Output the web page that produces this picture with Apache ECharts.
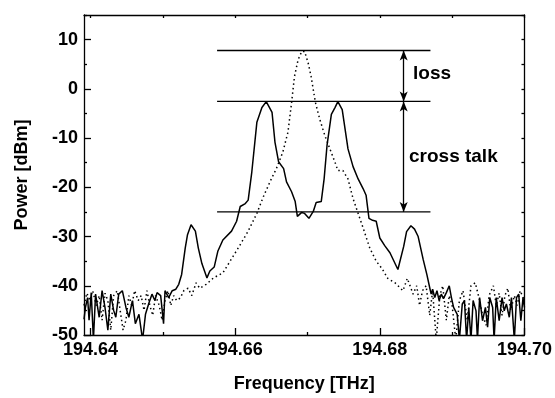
<!DOCTYPE html>
<html>
<head>
<meta charset="utf-8">
<script src="https://cdn.jsdelivr.net/npm/echarts@6/dist/echarts.min.js"></script>
<style>html,body{margin:0;padding:0;background:#fff}#c{width:555px;height:398px}</style>
</head>
<body>
<div id="c"></div>
<script>
// ---- data ----
const solidFreq = [194.6391,194.6393,194.6396,194.6398,194.6401,194.6404,194.6407,194.6412,194.6416,194.6420,194.6424,194.6428,194.6432,194.6435,194.6439,194.6444,194.6449,194.6453,194.6458,194.6462,194.6467,194.6472,194.6476,194.6481,194.6485,194.6489,194.6492,194.6497,194.6501,194.6503,194.6508,194.6513,194.6518,194.6522,194.6526,194.6531,194.6534,194.6539,194.6545,194.6549,194.6554,194.6561,194.6565,194.6571,194.6576,194.6583,194.6595,194.6602,194.6607,194.6614,194.6618,194.6623,194.6630,194.6637,194.6643,194.6651,194.6655,194.6660,194.6667,194.6671,194.6678,194.6683,194.6686,194.6692,194.6696,194.6702,194.6708,194.6712,194.6719,194.6723,194.6727,194.6733,194.6738,194.6742,194.6748,194.6756,194.6763,194.6770,194.6777,194.6781,194.6785,194.6790,194.6795,194.6800,194.6807,194.6814,194.6825,194.6833,194.6837,194.6843,194.6848,194.6853,194.6860,194.6865,194.6869,194.6871,194.6873,194.6876,194.6879,194.6882,194.6885,194.6888,194.6892,194.6896,194.6899,194.6902,194.6907,194.6910,194.6914,194.6917,194.6920,194.6923,194.6926,194.6929,194.6933,194.6935,194.6938,194.6942,194.6946,194.6949,194.6952,194.6956,194.6958,194.6961,194.6965,194.6969,194.6972,194.6975,194.6979,194.6982,194.6986,194.6989,194.6992,194.6995,194.6998,194.7000];
const solidPower = [-46.8,-44.4,-42.4,-47,-41.4,-51,-41.7,-46.4,-41,-44.4,-49,-41.7,-45,-46.4,-41.7,-41,-44.4,-46.4,-43,-47.7,-45.8,-51,-45.8,-43.4,-41.7,-43,-41.4,-42,-47.7,-41,-42.4,-41,-40.7,-39.7,-37.7,-32.3,-29.7,-27.6,-28.9,-32.3,-35.5,-38.4,-37,-36.2,-33,-30.7,-28.9,-26.9,-23.9,-23.3,-22.6,-16.9,-6.8,-3.8,-2.6,-4.8,-10.8,-14.8,-16.2,-18.9,-20.9,-22.9,-25.9,-25.1,-25.3,-26.3,-24.9,-23.1,-22.9,-18.3,-11.5,-5.2,-3.8,-2.6,-4.2,-12.2,-15.8,-18.3,-20.3,-21.6,-26.3,-26.7,-26.9,-30.3,-31.9,-33.3,-36.7,-32,-29,-27.8,-28.5,-30,-34.7,-37.7,-40.4,-41.7,-40.7,-42.4,-41,-43,-41.7,-42.6,-41.4,-40,-42.4,-44.4,-45.8,-51,-43.7,-43,-51,-44.4,-51,-43,-45.1,-51,-42.4,-47.1,-44.4,-48.4,-42.4,-44.4,-51,-42.4,-47.1,-42.4,-45.1,-43.7,-46.4,-42.4,-51,-42.4,-41.7,-47.1,-42.4,-44.4];

const dottedFreq = [194.6391,194.6395,194.6399,194.6403,194.6408,194.6412,194.6416,194.6420,194.6424,194.6428,194.6432,194.6437,194.6441,194.6445,194.6449,194.6453,194.6457,194.6461,194.6466,194.6470,194.6474,194.6478,194.6482,194.6486,194.6490,194.6495,194.6499,194.6503,194.6507,194.6511,194.6515,194.6519,194.6524,194.6529,194.6535,194.6540,194.6546,194.6551,194.6560,194.6570,194.6583,194.6593,194.6606,194.6618,194.6630,194.6639,194.6650,194.6657,194.6666,194.6673,194.6678,194.6682,194.6687,194.6692,194.6696,194.6701,194.6705,194.6711,194.6717,194.6724,194.6731,194.6738,194.6742,194.6749,194.6756,194.6763,194.6770,194.6777,194.6786,194.6795,194.6803,194.6811,194.6821,194.6832,194.6838,194.6846,194.6851,194.6855,194.6859,194.6864,194.6869,194.6873,194.6878,194.6883,194.6887,194.6892,194.6896,194.6900,194.6905,194.6910,194.6915,194.6921,194.6926,194.6932,194.6938,194.6942,194.6947,194.6951,194.6957,194.6961,194.6965,194.6969,194.6973,194.6977,194.6981,194.6986,194.6990,194.6994,194.7000];
const dottedPower = [-44,-41.5,-43,-41,-44,-42,-47,-41.5,-43,-49,-42,-41,-45,-49,-47,-42,-44,-41,-43,-42,-45,-41,-44,-46,-42,-44,-47,-43,-41,-44,-42,-43,-42.5,-41,-40.5,-42,-39.4,-40.5,-39.7,-38.4,-37.4,-35,-31.9,-28.9,-25.3,-21.9,-18.3,-16.2,-12.8,-8.8,-2.8,2.5,5.9,7.6,7.6,5.2,2.5,-2.8,-6.2,-9.5,-12.2,-14.9,-16.6,-16.6,-18.3,-22.3,-25.3,-28.3,-32.3,-35,-36.5,-38.5,-39.4,-41,-38.5,-41.7,-40,-44,-41,-40,-46,-41,-51,-42,-40,-47,-42,-44,-51,-43,-41,-47,-40,-39.4,-43,-46,-48,-42,-40,-44,-41.5,-46,-42,-40.5,-45,-42,-44,-41,-43];

const refLevels = [7.8, -2.55, -25.0];      // horizontal reference lines (dBm)
const refFreqRange = [194.6575, 194.687];    // extent of the reference lines
const arrowFreq = 194.6833;                  // x of the vertical arrows
const xLabelValues = [194.64, 194.66, 194.68, 194.70];
const xMinorTicks = [194.65, 194.67, 194.69];
const xAllTicks = [194.64, 194.65, 194.66, 194.67, 194.68, 194.69, 194.70];
const yLabelValues = [-50, -40, -30, -20, -10, 0, 10];
const yMinorTicks = [-45, -35, -25, -15, -5, 5, 15];
const yAllTicks = [-50, -45, -40, -35, -30, -25, -20, -15, -10, -5, 0, 5, 10, 15];

// ---- chart ----
const FONT = 'Liberation Sans, Arial, sans-serif';
const BLACK = '#000';
const XMIN = 194.6391, XMAX = 194.70, YMIN = -50, YMAX = 15;

function zip(a, b) { return a.map((v, i) => [v, b[i]]); }

const chart = echarts.init(document.getElementById('c'), null, {renderer: 'canvas'});

const axisLineStyle = {color: BLACK, width: 1.3};
const baseX = {type: 'value', min: XMIN, max: XMAX, splitLine: {show: false}, gridIndex: 0};
const baseY = {type: 'value', min: YMIN, max: YMAX, splitLine: {show: false}, gridIndex: 0};

const refSeries = refLevels.map(lv => ({
  type: 'line', xAxisIndex: 0, yAxisIndex: 0, symbol: 'none', silent: true,
  data: [[refFreqRange[0], lv], [refFreqRange[1], lv]],
  lineStyle: {color: BLACK, width: 1.4}, z: 3
}));

chart.setOption({
  animation: false,
  backgroundColor: '#fff',
  grid: {left: 84, right: 30, top: 15, bottom: 60, containLabel: false},
  xAxis: [
    Object.assign({}, baseX, {
      position: 'bottom',
      axisLine: {show: true, onZero: false, lineStyle: axisLineStyle},
      axisTick: {show: true, inside: true, length: 7, customValues: xLabelValues, lineStyle: axisLineStyle},
      axisLabel: {show: true, customValues: xLabelValues, formatter: v => v.toFixed(2),
        fontSize: 18, fontWeight: 'bold', fontFamily: FONT, color: BLACK, margin: 6},
      name: 'Frequency [THz]', nameLocation: 'middle', nameGap: 40,
      nameTextStyle: {fontSize: 18, fontWeight: 'bold', fontFamily: FONT, color: BLACK}
    }),
    Object.assign({}, baseX, {
      position: 'bottom',
      axisLine: {show: false, onZero: false},
      axisTick: {show: true, inside: true, length: 3, customValues: xMinorTicks, lineStyle: axisLineStyle},
      axisLabel: {show: false}
    }),
    Object.assign({}, baseX, {
      position: 'top',
      axisLine: {show: true, onZero: false, lineStyle: axisLineStyle},
      axisTick: {show: true, inside: true, length: 3, customValues: xAllTicks, lineStyle: axisLineStyle},
      axisLabel: {show: false}
    })
  ],
  yAxis: [
    Object.assign({}, baseY, {
      position: 'left',
      axisLine: {show: true, onZero: false, lineStyle: axisLineStyle},
      axisTick: {show: true, inside: true, length: 7, customValues: yLabelValues, lineStyle: axisLineStyle},
      axisLabel: {show: true, customValues: yLabelValues,
        fontSize: 18, fontWeight: 'bold', fontFamily: FONT, color: BLACK, margin: 6},
      name: 'Power [dBm]', nameLocation: 'middle', nameGap: 53, nameRotate: 90,
      nameTextStyle: {fontSize: 18, fontWeight: 'bold', fontFamily: FONT, color: BLACK}
    }),
    Object.assign({}, baseY, {
      position: 'left',
      axisLine: {show: false, onZero: false},
      axisTick: {show: true, inside: true, length: 3, customValues: yMinorTicks, lineStyle: axisLineStyle},
      axisLabel: {show: false}
    }),
    Object.assign({}, baseY, {
      position: 'right',
      axisLine: {show: true, onZero: false, lineStyle: axisLineStyle},
      axisTick: {show: true, inside: true, length: 3, customValues: yAllTicks, lineStyle: axisLineStyle},
      axisLabel: {show: false}
    })
  ],
  series: [
    {
      name: 'through', type: 'line', xAxisIndex: 0, yAxisIndex: 0, symbol: 'none', clip: true,
      data: zip(dottedFreq, dottedPower),
      lineStyle: {color: BLACK, width: 1.5, type: [1.5, 3]}, z: 2
    },
    {
      name: 'drop', type: 'line', xAxisIndex: 0, yAxisIndex: 0, symbol: 'none', clip: true,
      data: zip(solidFreq, solidPower),
      lineStyle: {color: BLACK, width: 1.5}, z: 4
    },
    ...refSeries,
    {
      type: 'line', xAxisIndex: 0, yAxisIndex: 0, data: [], silent: true,
      markLine: {
        silent: true, animation: false,
        symbol: ['arrow', 'arrow'], symbolSize: [6, 10],
        label: {show: false},
        lineStyle: {color: BLACK, width: 1.3, type: 'solid'},
        data: [
          [{coord: [arrowFreq, refLevels[0]]}, {coord: [arrowFreq, refLevels[1]]}],
          [{coord: [arrowFreq, refLevels[1]]}, {coord: [arrowFreq, refLevels[2]]}]
        ]
      }
    }
  ],
  graphic: [
    {type: 'text', left: 413, top: 64, style: {text: 'loss', fontSize: 19, fontWeight: 'bold', fontFamily: FONT, fill: BLACK}},
    {type: 'text', left: 409, top: 147, style: {text: 'cross talk', fontSize: 19, fontWeight: 'bold', fontFamily: FONT, fill: BLACK}}
  ]
});
</script>
</body>
</html>
